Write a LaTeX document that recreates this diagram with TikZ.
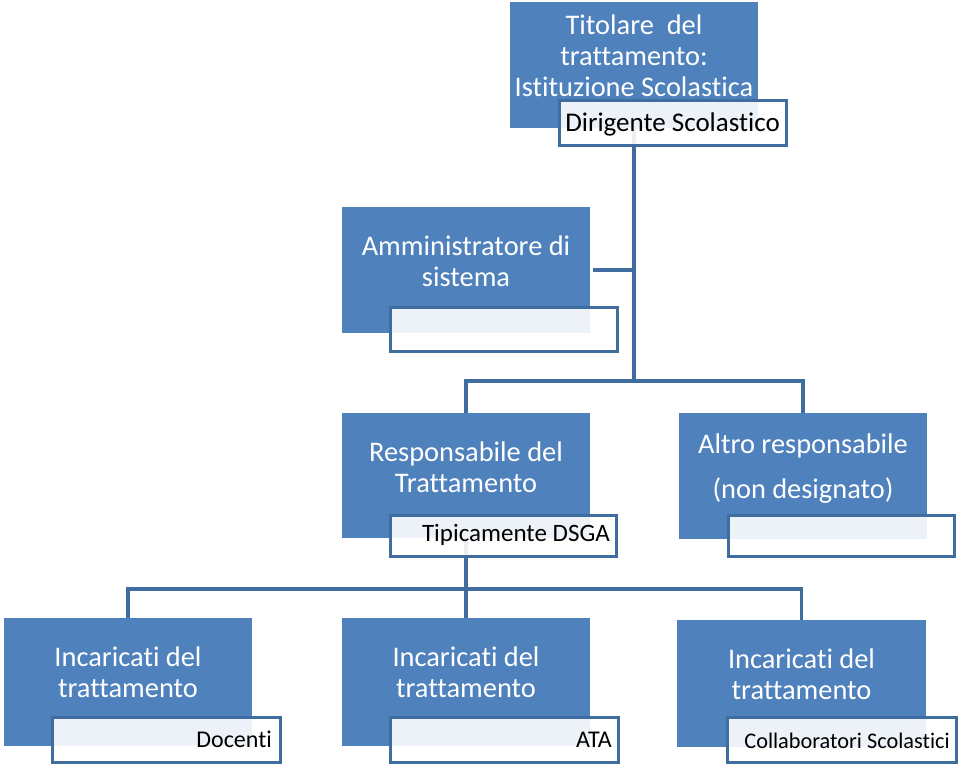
\documentclass[tikz,border=0pt]{standalone}
\usepackage{fontspec}
\setmainfont{Carlito}[Ligatures={NoCommon,NoContextual}]
\usetikzlibrary{backgrounds}
\definecolor{boxblue}{HTML}{4F81BD}
\definecolor{lineblue}{HTML}{3F6D9F}
\begin{document}
\begin{tikzpicture}[x=1pt,y=-1pt,
  bluebox/.style={fill=boxblue, inner sep=0pt, minimum width=248pt},
  maintext/.style={text=white, align=center, inner sep=0pt, font=\fontsize{28.4}{31}\selectfont},
  subbox/.style={draw=lineblue, line width=3pt, fill=white, fill opacity=0.9, inner sep=0pt},
  subtext/.style={anchor=base east, inner sep=0pt, text=black},
  conn/.style={draw=lineblue, line width=3.2pt}]
\useasboundingbox (0,0) rectangle (960,766);

% blue boxes
\node[bluebox, minimum height=126pt] (tit) at (634,65) {};
\node[bluebox, minimum height=126pt] (adm) at (466,270) {};
\node[bluebox, minimum height=125pt] (res) at (466,475.5) {};
\node[bluebox, minimum height=126pt] (alt) at (803,476) {};
\node[bluebox, minimum height=128pt] (inc1) at (128,682) {};
\node[bluebox, minimum height=128pt] (inc2) at (466,682) {};
\node[bluebox, minimum height=127pt, minimum width=249pt] (inc3) at (801.5,683.5) {};

% main texts
\node[maintext] (titt) at (634,56) {Titolare~ del\\trattamento:\\Istituzione Scolastica};
\node[maintext] (admt) at (466,261) {Amministratore di\\sistema};
\node[maintext] (rest) at (466,467.5) {Responsabile del\\Trattamento};
\node[maintext, font=\fontsize{28.4}{45}\selectfont] (altt) at (803,468.5) {Altro responsabile\\(non designato)};
\node[maintext] (inc1t) at (128,672.5) {Incaricati del\\trattamento};
\node[maintext] (inc2t) at (466,672.5) {Incaricati del\\trattamento};
\node[maintext] (inc3t) at (801.5,674.5) {Incaricati del\\trattamento};

% connectors
\coordinate (bus1) at (634,381);
\coordinate (bus2) at (466,589);
\draw[conn] (tit.south) -- (bus1);
\draw[conn, shorten <=3pt] (adm.east) -- (adm.east -| bus1);
\draw[conn] (res.north) |- (bus1) -| (alt.north);
\draw[conn] (res.south) -- (bus2);
\draw[conn] (inc1.north) |- (bus2) -| (inc3.north);
\draw[conn] (inc2.north) -- (bus2);

% sub boxes
\node[subbox, minimum width=227pt, minimum height=45pt] (tits) at (672.5,122.5) {};
\node[subbox, minimum width=227pt, minimum height=44pt] (adms) at (503.5,329) {};
\node[subbox, minimum width=226pt, minimum height=41pt] (ress) at (503,535.5) {};
\node[subbox, minimum width=226pt, minimum height=41pt] (alts) at (841,535.5) {};
\node[subbox, minimum width=228pt, minimum height=45pt] (inc1s) at (166,739.5) {};
\node[subbox, minimum width=228pt, minimum height=45pt] (inc2s) at (504,739.5) {};
\node[subbox, minimum width=229pt, minimum height=45pt] (inc3s) at (841.5,739.5) {};

% sub texts
\node[subtext, font=\fontsize{27}{30}\selectfont] (titst) at (780,131.5) {Dirigente Scolastico};
\node[subtext, font=\fontsize{25}{30}\selectfont] (resst) at (610,541.5) {Tipicamente DSGA};
\node[subtext, font=\fontsize{24}{30}\selectfont] (inc1st) at (272,747.5) {Docenti};
\node[subtext, font=\fontsize{24}{30}\selectfont] (inc2st) at (612,747.5) {ATA};
\node[subtext, font=\fontsize{22.3}{30}\selectfont] (inc3st) at (950,748) {Collaboratori Scolastici};
\end{tikzpicture}
\end{document}
